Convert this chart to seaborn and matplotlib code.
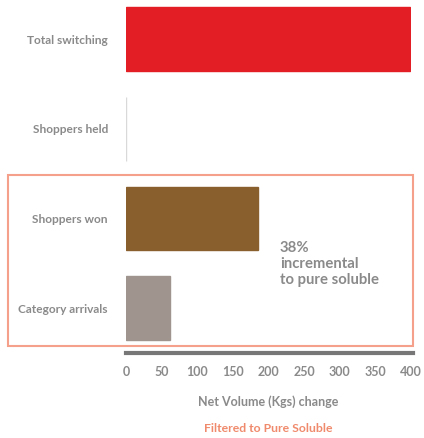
import seaborn as sns
import matplotlib.pyplot as plt
from matplotlib.patches import Rectangle

categories = ["Total switching", "Shoppers held", "Shoppers won", "Category arrivals"]
volumes = [398, 0, 185, 62]
colors = ["#e31e24", "#d9d9d9", "#8a5f2e", "#a0958e"]
xticks = [0, 50, 100, 150, 200, 250, 300, 350, 400]

sns.set_style("white")
plt.rcParams['font.family'] = ['Lato', 'DejaVu Sans']
grey = "#8a8a8a"

fig = plt.figure(figsize=(4.24, 4.38), dpi=100)
ax = fig.add_axes([126/424, 1-353/438, 285/424, 348/438])

sns.barplot(x=volumes, y=categories, hue=categories, palette=colors, orient="h",
            width=0.71, legend=False, ax=ax, saturation=1)
# thin edge so the zero bar still shows as a line
for bar, c in zip(ax.patches, colors):
    bar.set_edgecolor(c)
    bar.set_linewidth(1)

ax.set_xlim(0, 400)
ax.set_ylim(3.5, -0.38)
ax.set_xticks(xticks)
ax.set_xticklabels([str(t) for t in xticks], fontsize=9, fontweight="bold", color=grey)
ax.set_yticklabels(categories, fontsize=8.6, fontweight="bold", color=grey)
ax.tick_params(axis="x", length=0, pad=9)
ax.tick_params(axis="y", length=0, pad=13)
for s in ["top", "right", "left"]:
    ax.spines[s].set_visible(False)
ax.spines["bottom"].set_color("#777777")
ax.spines["bottom"].set_linewidth(3)
ax.spines["bottom"].set_bounds(0, 403)

ax.set_xlabel("Net Volume (Kgs) change", fontsize=9, fontweight="bold", color=grey, labelpad=13)
ax.set_ylabel("")

ax.text(216, 2.51, "38%\nincremental\nto pure soluble", fontsize=10.7, fontweight="bold",
        color=grey, ha="left", va="center", linespacing=1.2)

fig.add_artist(Rectangle((8/424, 1-346/438), 405/424, 171/438, transform=fig.transFigure,
                         fill=False, edgecolor="#f4a08a", linewidth=1.5))
fig.text(268/424, 1-428/438, "Filtered to Pure Soluble", fontsize=8.8, fontweight="bold",
         color="#f08a6c", ha="center", va="center")

fig.savefig("out.png", dpi=100)
